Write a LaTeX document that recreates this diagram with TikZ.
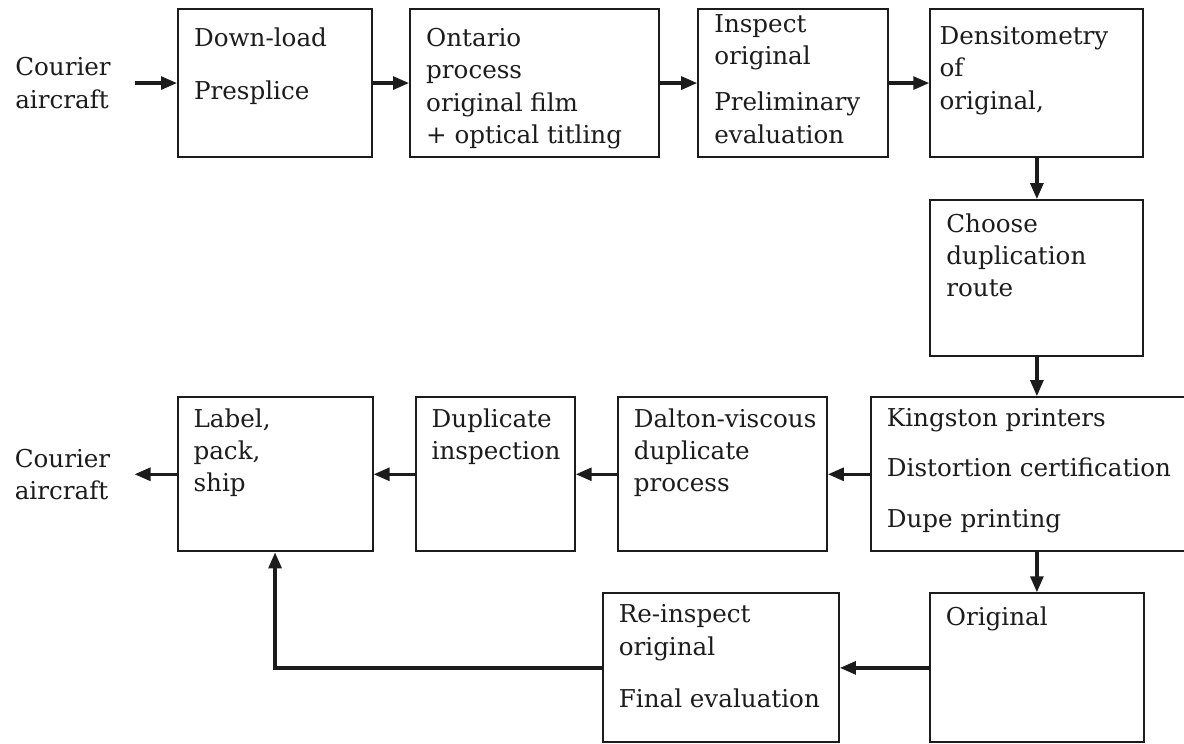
\documentclass[tikz,border=0pt]{standalone}
\usepackage{fontspec}
\setmainfont{DejaVu Serif}
\usepackage{tikz}
\usetikzlibrary{arrows.meta,positioning}
\definecolor{ink}{HTML}{1C1C1C}
\tikzset{
  stepbox/.style={
    rectangle, draw=ink, line width=1.5pt,
    minimum width=#1, minimum height=3.7cm,
    inner sep=0pt
  },
  stepbox/.default=5cm,
  steptext/.style={
    anchor=north west, align=left, text=ink,
    font=\fontsize{17.5}{23}\selectfont,
    inner xsep=0.42cm, inner ysep=0.5cm
  },
  flowarrow/.style={
    -{Triangle[length=0.4cm, width=0.32cm]}, line width=2.4pt, color=ink
  },
  courier/.style={
    font=\fontsize{17.5}{23}\selectfont, align=left, text=ink,
    inner xsep=0.6cm
  },
}

\begin{document}
\begin{tikzpicture}
  \useasboundingbox (0,0) rectangle (29.6,-18.575);

  % Top row
  \node[stepbox=4.85cm, anchor=north west,
        label={[steptext]north west:Down-load\\[0.5cm]Presplice}] (dl) at (4.425,-0.2) {};
  \node[stepbox=6.225cm, right=0.9cm of dl,
        label={[steptext]north west:Ontario\\process\\original film\\+ optical titling}] (ont) {};
  \node[stepbox=4.75cm, right=0.925cm of ont,
        label={[steptext, inner ysep=0.15cm]north west:Inspect\\original\\[0.35cm]Preliminary\\evaluation}] (insp) {};
  \node[stepbox=5.325cm, right=1.0cm of insp,
        label={[steptext, inner xsep=0.25cm, inner ysep=0.45cm]north west:Densitometry\\of\\original,}] (dens) {};
  \node[courier, left=1.05cm of dl] (cin) {Courier\\aircraft};

  % Right column
  \node[stepbox=5.325cm, minimum height=3.9cm, below=1.025cm of dens,
        label={[steptext, inner ysep=0.35cm]north west:Choose\\duplication\\route}] (route) {};

  % Middle row
  \node[stepbox=7.925cm, minimum height=3.85cm, below=0.975cm of route, xshift=-0.1875cm,
        label={[steptext, inner ysep=0.3cm]north west:Kingston printers\\[0.45cm]Distortion certification\\[0.45cm]Dupe printing}] (king) {};
  \node[stepbox=5.225cm, minimum height=3.85cm, left=1.05cm of king,
        label={[steptext, inner ysep=0.3cm]north west:Dalton-viscous\\duplicate\\process}] (dalt) {};
  \node[stepbox=3.975cm, minimum height=3.85cm, left=1.025cm of dalt,
        label={[steptext, inner ysep=0.3cm]north west:Duplicate\\inspection}] (dupl) {};
  \node[stepbox=4.875cm, minimum height=3.85cm, left=1.025cm of dupl,
        label={[steptext, inner ysep=0.3cm]north west:Label,\\pack,\\ship}] (lbl) {};
  \node[courier, left=1.05cm of lbl] (cout) {Courier\\aircraft};

  % Bottom row
  \node[stepbox=5.35cm, minimum height=3.725cm, below=1.0cm of king, xshift=0.1875cm,
        label={[steptext, inner ysep=0.35cm]north west:Original}] (orig) {};
  \node[stepbox=5.9cm, minimum height=3.725cm, left=2.225cm of orig,
        label={[steptext, inner ysep=0.3cm]north west:Re-inspect\\original\\[0.5cm]Final evaluation}] (rein) {};

  % Flow
  \draw[flowarrow] (cin) -- (dl);
  \foreach \a/\b in {dl/ont, ont/insp, insp/dens, dens/route} {
    \draw[flowarrow] (\a) -- (\b);
  }
  \draw[flowarrow] (route.south) -- (route.south |- king.north);
  \foreach \a/\b in {king/dalt, dalt/dupl, dupl/lbl, lbl/cout} {
    \draw[flowarrow] (\a) -- (\b);
  }
  \draw[flowarrow] (king.south -| orig.north) -- (orig.north);
  \draw[flowarrow] (orig) -- (rein);
  \draw[flowarrow] (rein.west) -| (lbl.south);
\end{tikzpicture}
\end{document}
